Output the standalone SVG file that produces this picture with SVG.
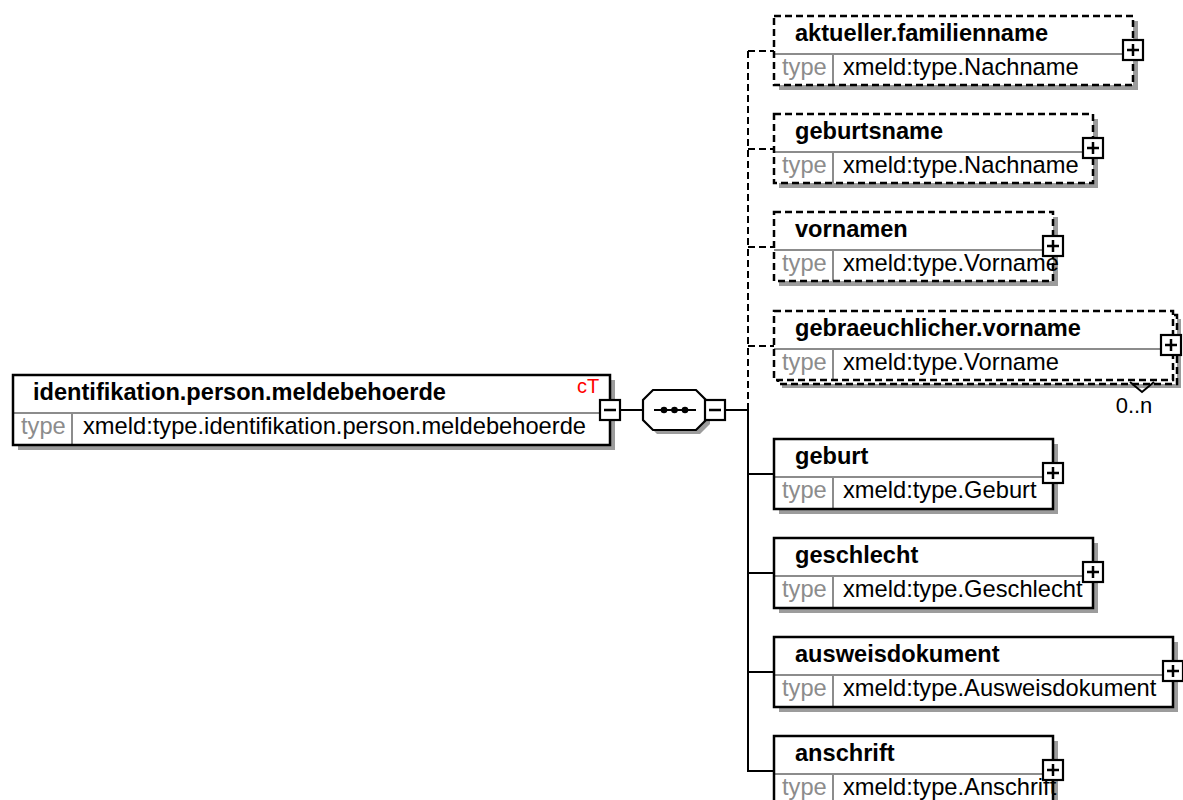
<svg xmlns="http://www.w3.org/2000/svg" xmlns:xlink="http://www.w3.org/1999/xlink" width="1183" height="800" viewBox="0 0 1183 800">
<style>
  .shadow { fill: #9c9c9c; stroke: none; }
  .bg { fill: #ffffff; stroke: none; }
  .solid { fill: none; stroke: #000; stroke-width: 2.5; }
  .dashed { fill: none; stroke: #000; stroke-width: 2.5; stroke-dasharray: 7 4; }
  .sep { stroke: #8c8c8c; stroke-width: 2; fill: none; }
  .name { font-family: "Liberation Sans", Arial, sans-serif; font-weight: bold; font-size: 23.6px; fill: #000; }
  .tl { font-family: "Liberation Sans", Arial, sans-serif; font-size: 23.7px; fill: #8c8c8c; }
  .val { font-family: "Liberation Sans", Arial, sans-serif; font-size: 23.7px; fill: #000; }
  .ct { font-family: "Liberation Sans", Arial, sans-serif; font-size: 20px; fill: #ff0000; }
  .card { font-family: "Liberation Sans", Arial, sans-serif; font-size: 22px; fill: #000; }
  .conn { stroke: #000; stroke-width: 2; fill: none; }
  .conn-d { stroke: #000; stroke-width: 2; fill: none; stroke-dasharray: 7 4; }
</style>
<defs>
  <g id="plus">
    <rect x="-10" y="-10" width="20" height="20" fill="#fff" stroke="#000" stroke-width="2.2"/>
    <line x1="-6" y1="0" x2="6" y2="0" stroke="#000" stroke-width="2.5"/>
    <line x1="0" y1="-6" x2="0" y2="6" stroke="#000" stroke-width="2.5"/>
  </g>
  <g id="minus">
    <rect x="-10" y="-10" width="20" height="20" fill="#fff" stroke="#000" stroke-width="2.2"/>
    <line x1="-6" y1="0" x2="6" y2="0" stroke="#000" stroke-width="2.5"/>
  </g>
</defs>
<rect x="0" y="0" width="1183" height="800" fill="#ffffff"/>

<g id="connectors">
  <line class="conn" x1="620" y1="410" x2="643" y2="410"/>
  <line class="conn" x1="725" y1="410" x2="748" y2="410"/>
  <line class="conn-d" x1="748" y1="51" x2="748" y2="410"/>
  <line class="conn" x1="748" y1="410" x2="748" y2="772"/>
  <line class="conn-d" x1="748" y1="51" x2="774" y2="51"/>
  <line class="conn-d" x1="748" y1="149" x2="774" y2="149"/>
  <line class="conn-d" x1="748" y1="247" x2="774" y2="247"/>
  <line class="conn-d" x1="748" y1="346" x2="774" y2="346"/>
  <line class="conn" x1="748" y1="474" x2="774" y2="474"/>
  <line class="conn" x1="748" y1="573" x2="774" y2="573"/>
  <line class="conn" x1="748" y1="672" x2="774" y2="672"/>
  <line class="conn" x1="748" y1="771" x2="774" y2="771"/>
</g>

<g id="main">
  <rect class="shadow" x="18" y="380" width="597" height="70"/>
  <rect class="bg" x="13" y="375" width="597" height="70"/>
  <line class="sep" x1="13" y1="413" x2="610" y2="413"/>
  <line class="sep" x1="72" y1="413" x2="72" y2="445"/>
  <rect class="solid" x="13" y="375" width="597" height="70"/>
  <text class="name" x="33" y="400">identifikation.person.meldebehoerde</text>
  <text class="ct" x="577" y="393">cT</text>
  <text class="tl" x="21" y="434">type</text>
  <text class="val" x="83" y="434">xmeld:type.identifikation.person.meldebehoerde</text>
  <use xlink:href="#minus" x="610" y="410"/>
</g>

<g id="sequence">
  <polygon class="shadow" points="657,394 700,394 710,404 710,424 700,434 657,434 647,424 647,404"/>
  <polygon points="653,390 696,390 706,400 706,420 696,430 653,430 643,420 643,400" fill="#fff" stroke="#000" stroke-width="2.2"/>
  <line x1="654" y1="410" x2="696" y2="410" stroke="#000" stroke-width="2"/>
  <circle cx="664" cy="410" r="3.3" fill="#000"/>
  <circle cx="674.5" cy="410" r="3.3" fill="#000"/>
  <circle cx="685" cy="410" r="3.3" fill="#000"/>
  <use xlink:href="#minus" x="715" y="410"/>
</g>

<g id="aktueller.familienname">
  <rect class="shadow" x="779" y="21" width="359" height="69"/>
  <rect class="bg" x="774" y="16" width="359" height="69"/>
  <line class="sep" x1="774" y1="54" x2="1133" y2="54"/>
  <line class="sep" x1="833" y1="54" x2="833" y2="85"/>
  <rect class="dashed" x="774" y="16" width="359" height="69"/>
  <text class="name" x="795" y="41">aktueller.familienname</text>
  <text class="tl" x="782" y="75">type</text>
  <text class="val" x="843" y="75">xmeld:type.Nachname</text>
  <use xlink:href="#plus" x="1133" y="50"/>
</g>

<g id="geburtsname">
  <rect class="shadow" x="779" y="119" width="319" height="69"/>
  <rect class="bg" x="774" y="114" width="319" height="69"/>
  <line class="sep" x1="774" y1="152" x2="1093" y2="152"/>
  <line class="sep" x1="833" y1="152" x2="833" y2="183"/>
  <rect class="dashed" x="774" y="114" width="319" height="69"/>
  <text class="name" x="795" y="139">geburtsname</text>
  <text class="tl" x="782" y="173">type</text>
  <text class="val" x="843" y="173">xmeld:type.Nachname</text>
  <use xlink:href="#plus" x="1093" y="148"/>
</g>

<g id="vornamen">
  <rect class="shadow" x="779" y="217" width="279" height="69"/>
  <rect class="bg" x="774" y="212" width="279" height="69"/>
  <line class="sep" x1="774" y1="250" x2="1053" y2="250"/>
  <line class="sep" x1="833" y1="250" x2="833" y2="281"/>
  <rect class="dashed" x="774" y="212" width="279" height="69"/>
  <text class="name" x="795" y="237">vornamen</text>
  <text class="tl" x="782" y="271">type</text>
  <text class="val" x="843" y="271">xmeld:type.Vorname</text>
  <use xlink:href="#plus" x="1053" y="246"/>
</g>

<g id="gebraeuchlicher.vorname">
  <rect class="shadow" x="782" y="319" width="399" height="69"/>
  <rect class="bg" x="778" y="315" width="399" height="69"/>
  <rect class="dashed" x="778" y="315" width="399" height="69"/>
  <rect class="bg" x="774" y="311" width="399" height="69"/>
  <line class="sep" x1="774" y1="349" x2="1173" y2="349"/>
  <line class="sep" x1="833" y1="349" x2="833" y2="380"/>
  <rect class="dashed" x="774" y="311" width="399" height="69"/>
  <text class="name" x="795" y="336">gebraeuchlicher.vorname</text>
  <text class="tl" x="782" y="370">type</text>
  <text class="val" x="843" y="370">xmeld:type.Vorname</text>
  <use xlink:href="#plus" x="1171" y="345"/>
  <polyline points="1130,382 1142,392 1154,382" fill="none" stroke="#000" stroke-width="2"/>
  <text class="card" x="1134" y="413" text-anchor="middle">0..n</text>
</g>

<g id="geburt">
  <rect class="shadow" x="779" y="444" width="279" height="70"/>
  <rect class="bg" x="774" y="439" width="279" height="70"/>
  <line class="sep" x1="774" y1="477" x2="1053" y2="477"/>
  <line class="sep" x1="833" y1="477" x2="833" y2="509"/>
  <rect class="solid" x="774" y="439" width="279" height="70"/>
  <text class="name" x="795" y="464">geburt</text>
  <text class="tl" x="782" y="498">type</text>
  <text class="val" x="843" y="498">xmeld:type.Geburt</text>
  <use xlink:href="#plus" x="1053" y="473"/>
</g>

<g id="geschlecht">
  <rect class="shadow" x="779" y="543" width="319" height="70"/>
  <rect class="bg" x="774" y="538" width="319" height="70"/>
  <line class="sep" x1="774" y1="576" x2="1093" y2="576"/>
  <line class="sep" x1="833" y1="576" x2="833" y2="608"/>
  <rect class="solid" x="774" y="538" width="319" height="70"/>
  <text class="name" x="795" y="563">geschlecht</text>
  <text class="tl" x="782" y="597">type</text>
  <text class="val" x="843" y="597">xmeld:type.Geschlecht</text>
  <use xlink:href="#plus" x="1093" y="572"/>
</g>

<g id="ausweisdokument">
  <rect class="shadow" x="779" y="642" width="399" height="70"/>
  <rect class="bg" x="774" y="637" width="399" height="70"/>
  <line class="sep" x1="774" y1="675" x2="1173" y2="675"/>
  <line class="sep" x1="833" y1="675" x2="833" y2="707"/>
  <rect class="solid" x="774" y="637" width="399" height="70"/>
  <text class="name" x="795" y="662">ausweisdokument</text>
  <text class="tl" x="782" y="696">type</text>
  <text class="val" x="843" y="696">xmeld:type.Ausweisdokument</text>
  <use xlink:href="#plus" x="1173" y="671"/>
</g>

<g id="anschrift">
  <rect class="shadow" x="779" y="741" width="279" height="70"/>
  <rect class="bg" x="774" y="736" width="279" height="70"/>
  <line class="sep" x1="774" y1="774" x2="1053" y2="774"/>
  <line class="sep" x1="833" y1="774" x2="833" y2="806"/>
  <rect class="solid" x="774" y="736" width="279" height="70"/>
  <text class="name" x="795" y="761">anschrift</text>
  <text class="tl" x="782" y="795">type</text>
  <text class="val" x="843" y="795">xmeld:type.Anschrift</text>
  <use xlink:href="#plus" x="1053" y="770"/>
</g>
</svg>
